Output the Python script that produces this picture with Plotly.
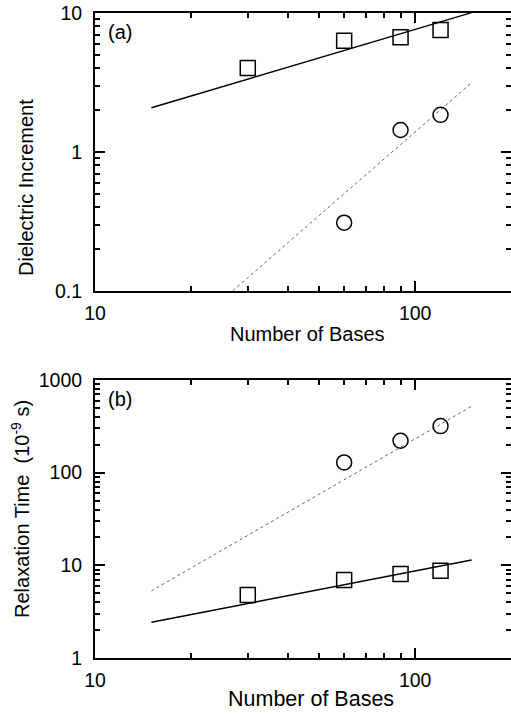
import plotly.graph_objects as go

# ---------------- data ----------------
bases = [30, 60, 90, 120]
bases_c = [60, 90, 120]

# (a) dielectric increment
inc_squares = [4.02, 6.32, 6.69, 7.54]
inc_circles = [0.31, 1.44, 1.85]
fit_x = [15, 150]
inc_sq_fit = [2.08, 10.05]
inc_ci_fit = [0.031, 3.15]

# (b) relaxation time (1e-9 s)
tau_squares = [4.78, 6.94, 8.06, 8.74]
tau_circles = [129, 221, 318]
tau_sq_fit = [2.43, 11.4]
tau_ci_fit = [5.3, 520]

x_ticks = [10, 100]
x_minor = [20, 30, 40, 50, 60, 70, 80, 90, 200]
ya_ticks = [0.1, 1, 10]
ya_minor = [0.2, 0.3, 0.4, 0.5, 0.6, 0.7, 0.8, 0.9, 2, 3, 4, 5, 6, 7, 8, 9]
yb_ticks = [1, 10, 100, 1000]
yb_minor = [m * d for d in (1, 10, 100) for m in (2, 3, 4, 5, 6, 7, 8, 9)]

# ---------------- figure ----------------
W, H = 511, 717
ML, MR, MT, MB = 95, 0, 13, 59
PW = W - ML - MR
PH = H - MT - MB
DEC = 320.2  # px per decade on x
xr = [1, 1 + PW / DEC]

FONT = "Liberation Sans, Arial, Helvetica, sans-serif"
TICKF = dict(family=FONT, size=19.5, color="black")

fig = go.Figure()

def mk(x, y, sym, xa, ya):
    return go.Scatter(x=x, y=y, mode="markers", xaxis=xa, yaxis=ya,
                      marker=dict(symbol=sym, size=15, color="black",
                                  line=dict(width=1.5, color="black")),
                      showlegend=False, hoverinfo="skip")

def ln(x, y, xa, ya, dotted):
    return go.Scatter(x=x, y=y, mode="lines", xaxis=xa, yaxis=ya,
                      line=dict(color="#666666" if dotted else "black",
                                width=1 if dotted else 1.4,
                                dash="dot" if dotted else "solid"),
                      showlegend=False, hoverinfo="skip")

# panel (a)
fig.add_trace(ln(fit_x, inc_sq_fit, "x", "y", False))
fig.add_trace(ln(fit_x, inc_ci_fit, "x", "y", True))
fig.add_trace(mk(bases, inc_squares, "square-open", "x", "y"))
fig.add_trace(mk(bases_c, inc_circles, "circle-open", "x", "y"))
# panel (b)
fig.add_trace(ln(fit_x, tau_sq_fit, "x2", "y2", False))
fig.add_trace(ln(fit_x, tau_ci_fit, "x2", "y2", True))
fig.add_trace(mk(bases, tau_squares, "square-open", "x2", "y2"))
fig.add_trace(mk(bases_c, tau_circles, "circle-open", "x2", "y2"))
# empty traces to realise right-hand tick-only axes
fig.add_trace(go.Scatter(x=[], y=[], xaxis="x", yaxis="y3", showlegend=False))
fig.add_trace(go.Scatter(x=[], y=[], xaxis="x2", yaxis="y4", showlegend=False))

top_dom = [(PH - (291 - MT)) / PH, 1.0]
bot_dom = [0.0, (PH - (380 - MT)) / PH]

def xaxis(anchor):
    return dict(type="log", range=xr, domain=[0, 1], anchor=anchor,
                showline=True, linewidth=2, linecolor="black", mirror="ticks",
                ticks="inside", ticklen=10, tickwidth=1.5, tickcolor="black",
                tickvals=x_ticks, ticktext=[str(v) for v in x_ticks],
                tickfont=TICKF, ticklabelstandoff=4,
                minor=dict(tickvals=x_minor, ticks="inside", ticklen=5,
                           tickwidth=1.5, tickcolor="black", showgrid=False),
                showgrid=False, zeroline=False, fixedrange=True)

def yaxis(anchor, dom, rng, tv, mv, labels=True, **kw):
    d = dict(type="log", range=rng, domain=dom, anchor=anchor,
             ticks="inside", ticklen=10, tickwidth=1.5, tickcolor="black",
             tickvals=tv, ticktext=[("%g" % v) for v in tv],
             tickfont=TICKF, ticklabelstandoff=7,
             minor=dict(tickvals=mv, ticks="inside", ticklen=5,
                        tickwidth=1.5, tickcolor="black", showgrid=False),
             showgrid=False, zeroline=False, fixedrange=True,
             showticklabels=labels)
    d.update(kw)
    return d

fig.update_layout(
    width=W, height=H,
    margin=dict(l=ML, r=MR, t=MT, b=MB, pad=0),
    paper_bgcolor="white", plot_bgcolor="white",
    font=dict(family=FONT, color="black"),
    xaxis=xaxis("y"),
    xaxis2=xaxis("y2"),
    yaxis=yaxis("x", top_dom, [-1, 1], ya_ticks, ya_minor,
                showline=True, linewidth=2, linecolor="black"),
    yaxis2=yaxis("x2", bot_dom, [0, 3], yb_ticks, yb_minor,
                 showline=True, linewidth=2, linecolor="black"),
    yaxis3=yaxis("x", top_dom, [-1, 1], ya_ticks, ya_minor, labels=False,
                 overlaying="y", side="right", showline=False),
    yaxis4=yaxis("x2", bot_dom, [0, 3], yb_ticks, yb_minor, labels=False,
                 overlaying="y2", side="right", showline=False),
    showlegend=False,
)

def px2paper_x(px):
    return (px - ML) / PW

def px2paper_y(py):
    return (H - MB - py) / PH

annots = [
    dict(text="Number of Bases", x=px2paper_x(307), y=px2paper_y(334), size=20, angle=0),
    dict(text="Number of Bases", x=px2paper_x(310.5), y=px2paper_y(699), size=21.5, angle=0),
    dict(text="Dielectric Increment", x=px2paper_x(26), y=px2paper_y(188), size=20, angle=-90),
    dict(text="Relaxation Time\u00a0 (10<sup>-9</sup> s)", x=px2paper_x(20), y=px2paper_y(509), size=20, angle=-90),
    dict(text="(a)", x=px2paper_x(119.5), y=px2paper_y(32), size=20, angle=0),
    dict(text="(b)", x=px2paper_x(119.5), y=px2paper_y(399), size=20, angle=0),
]
for a in annots:
    fig.add_annotation(text=a["text"], x=a["x"], y=a["y"], xref="paper", yref="paper",
                       xanchor="center", yanchor="middle", showarrow=False,
                       textangle=a["angle"],
                       font=dict(family=FONT, size=a["size"], color="black"))

fig.write_html("out.html", config={"displayModeBar": False})
